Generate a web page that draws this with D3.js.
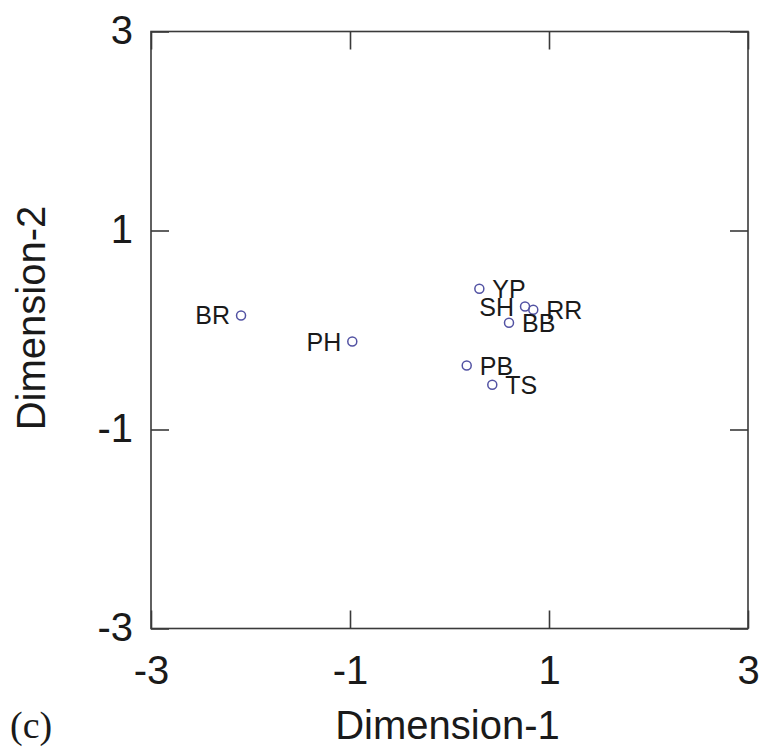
<!DOCTYPE html>
<html>
<head>
<meta charset="utf-8">
<script src="https://cdn.jsdelivr.net/npm/d3@7"></script>
<style>
  html, body { margin: 0; padding: 0; background: #fff; }
  svg { display: block; }
  text { font-family: "Liberation Sans", Arial, Helvetica, sans-serif; fill: #1a1a1a; }
</style>
</head>
<body>
<script>
// ---- Data ----
const labels = ["BR", "PH", "YP", "SH", "RR", "BB", "PB", "TS"];
const dim1 = [-2.095, -0.977, 0.30, 0.759, 0.842, 0.598, 0.173, 0.430];
const dim2 = [0.146, -0.116, 0.414, 0.236, 0.203, 0.072, -0.357, -0.551];
const labelSide = ["left", "left", "right", "left", "right", "right", "right", "right"];
const tickValues = [-3, -1, 1, 3];
const tickLabels = ["-3", "-1", "1", "3"];
const xTitle = "Dimension-1";
const yTitle = "Dimension-2";
const panelTag = "(c)";

// ---- Layout ----
const W = 761, H = 747;
const L = 151, R = 748, T = 31.5, B = 628.5;

const svg = d3.select("body").append("svg").attr("width", W).attr("height", H);

const x = d3.scaleLinear().domain([-3, 3]).range([L, R]);
const y = d3.scaleLinear().domain([-3, 3]).range([B, T]);

const axisColor = "#3a3a3a";
const tickLen = 18;
const fmt = v => tickLabels[tickValues.indexOf(v)];

function styleAxis(g, showText) {
  g.select(".domain").remove();
  g.selectAll(".tick line").attr("stroke", axisColor).attr("stroke-width", 1.6);
  if (!showText) g.selectAll(".tick text").remove();
  else g.selectAll(".tick text").attr("fill", "#1a1a1a").style("font-size", "40px")
        .style("font-family", "'Liberation Sans', Arial, Helvetica, sans-serif");
}

// bottom
svg.append("g").attr("transform", `translate(0,${B})`)
  .call(d3.axisBottom(x).tickValues(tickValues).tickSize(-tickLen).tickPadding(27).tickFormat(fmt))
  .call(g => styleAxis(g, true));
// top
svg.append("g").attr("transform", `translate(0,${T})`)
  .call(d3.axisTop(x).tickValues(tickValues).tickSize(-tickLen))
  .call(g => styleAxis(g, false));
// left
svg.append("g").attr("transform", `translate(${L},0)`)
  .call(d3.axisLeft(y).tickValues(tickValues).tickSize(-tickLen).tickPadding(18).tickFormat(fmt))
  .call(g => { styleAxis(g, true); g.selectAll(".tick text").attr("dy", "0.3em"); });
// right
svg.append("g").attr("transform", `translate(${R},0)`)
  .call(d3.axisRight(y).tickValues(tickValues).tickSize(-tickLen))
  .call(g => styleAxis(g, false));

// frame
svg.append("rect")
  .attr("x", L).attr("y", T).attr("width", R - L).attr("height", B - T)
  .attr("fill", "none").attr("stroke", axisColor).attr("stroke-width", 1.6);

// points
const pts = labels.map((l, i) => ({ label: l, x: dim1[i], y: dim2[i], side: labelSide[i] }));

svg.append("g").selectAll("circle").data(pts).join("circle")
  .attr("cx", d => x(d.x)).attr("cy", d => y(d.y)).attr("r", 4.5)
  .attr("fill", "none").attr("stroke", "#5252a3").attr("stroke-width", 1.5);

svg.append("g").selectAll("text").data(pts).join("text")
  .attr("x", d => x(d.x) + (d.side === "left" ? -11 : 13))
  .attr("y", d => y(d.y) + 9)
  .attr("text-anchor", d => d.side === "left" ? "end" : "start")
  .style("font-size", "25px")
  .text(d => d.label);

// axis titles
svg.append("text")
  .attr("x", (L + R) / 2 - 2).attr("y", 739)
  .attr("text-anchor", "middle").style("font-size", "40px")
  .text(xTitle);

svg.append("text")
  .attr("transform", `translate(45,${(T + B) / 2 - 12}) rotate(-90)`)
  .attr("text-anchor", "middle").style("font-size", "40px")
  .text(yTitle);

svg.append("text")
  .attr("x", 10).attr("y", 738)
  .style("font-family", "'Liberation Serif', 'Times New Roman', serif")
  .style("font-size", "38px")
  .text(panelTag);
</script>
</body>
</html>
